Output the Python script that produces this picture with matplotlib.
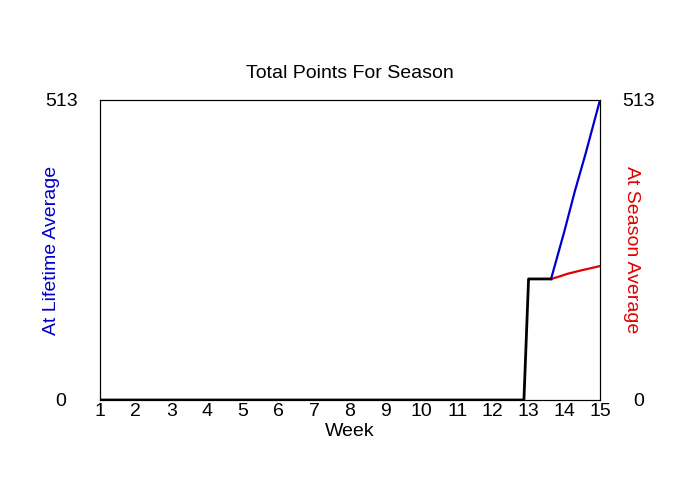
import matplotlib
matplotlib.use("Agg")
import matplotlib.pyplot as plt

plt.rcParams["font.family"] = ["Liberation Sans", "DejaVu Sans"]

# data
weeks = list(range(1, 16))
actual_weeks = [1, 12.87, 13.0, 13.63]
actual_points = [0, 0, 207, 207]
lifetime_weeks = [13.63, 14.0, 14.3, 14.6, 15.0]
lifetime_points = [207, 288, 358, 422, 513]
season_weeks = [13.63, 13.8, 14.1, 14.5, 15.0]
season_points = [207, 210, 216, 222, 229]
y_max = 513

fig = plt.figure(figsize=(7, 5), dpi=100)
ax = fig.add_axes([100 / 700, 0.2, 500 / 700, 0.6])

ax.plot(lifetime_weeks, lifetime_points, color="#0000cc", lw=1.6)
ax.plot(season_weeks, season_points, color="#e00000", lw=1.6)
ax.plot(actual_weeks, actual_points, color="black", lw=2)

fs = 14
ax.set_xlim(1, 15)
ax.set_ylim(0, y_max)
ax.set_xticks(weeks)
ax.set_yticks([0, y_max])
ax.set_yticklabels(["0", str(y_max)])
ax.tick_params(axis="x", length=0, pad=2.5, labelsize=fs)
ax.tick_params(axis="y", length=0, pad=28, labelsize=fs)
for lbl in ax.get_yticklabels():
    lbl.set_horizontalalignment("center")

ax.set_xlabel("Week", fontsize=fs, labelpad=2)
ax.set_ylabel("At Lifetime Average", fontsize=fs, color="#0000cc")
ax.yaxis.set_label_coords(-0.08, 0.5)
ax.set_title("Total Points For Season", fontsize=fs, pad=16)

ax2 = ax.twinx()
ax2.set_ylim(0, y_max)
ax2.set_yticks([0, y_max])
ax2.set_yticklabels(["0", str(y_max)])
ax2.tick_params(axis="y", length=0, pad=28, labelsize=fs)
for lbl in ax2.get_yticklabels():
    lbl.set_horizontalalignment("center")
ax2.set_ylabel("At Season Average", fontsize=fs, color="#e00000", rotation=270)
ax2.yaxis.set_label_coords(1.08, 0.5)

fig.savefig("out.png", dpi=100)
